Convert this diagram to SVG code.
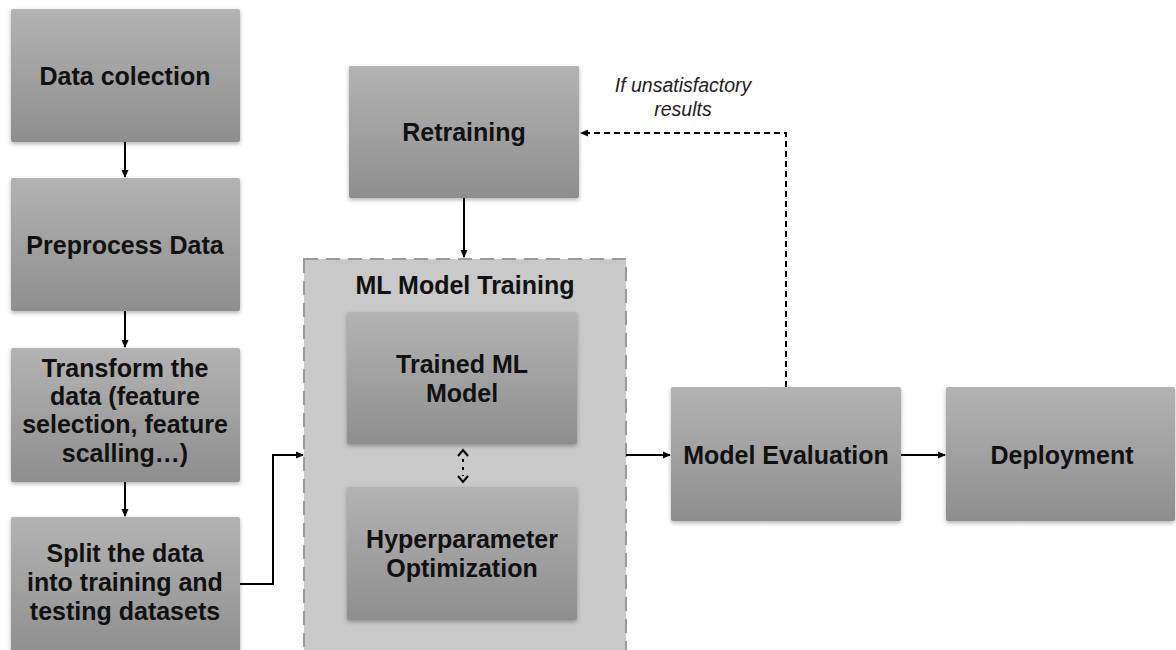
<svg xmlns="http://www.w3.org/2000/svg" width="1176" height="650" viewBox="0 0 1176 650">
<style>
.box{fill:url(#g);filter:url(#sh)}
.t{font-family:"Liberation Sans",Arial,sans-serif;font-weight:bold;font-size:25px;fill:#111;text-anchor:middle}
.it{font-family:"Liberation Sans",Arial,sans-serif;font-style:italic;font-size:19.5px;fill:#222;text-anchor:middle}
.ln{fill:none;stroke:#000;stroke-width:2}
.dl{fill:none;stroke:#000;stroke-width:2;stroke-dasharray:6,4}
</style>
<defs>
<linearGradient id="g" x1="0" y1="0" x2="0" y2="1">
<stop offset="0" stop-color="#b3b3b3"/>
<stop offset="1" stop-color="#8e8e8e"/>
</linearGradient>
<filter id="sh" x="-5%" y="-5%" width="110%" height="115%">
<feDropShadow dx="0" dy="2" stdDeviation="2" flood-color="#000" flood-opacity="0.3"/>
</filter>
<marker id="a" markerWidth="8" markerHeight="8" refX="7" refY="4" orient="auto" markerUnits="userSpaceOnUse">
<path d="M0,0.5 L8,4 L0,7.5 z" fill="#000"/>
</marker>
</defs>
<rect width="1176" height="650" fill="#fff"/>
<g id="container">
<rect x="304" y="259" width="322" height="400" fill="#c9c9c9" stroke="#9a9a9a" stroke-width="2" stroke-dasharray="14,8"/>
<text class="t" x="465" y="294">ML Model Training</text>
</g>
<g id="data-collection"><rect class="box" x="11" y="9" width="229" height="133" rx="2"/><text class="t" x="125" y="85">Data colection</text></g>
<g id="preprocess"><rect class="box" x="11" y="178" width="229" height="133" rx="2"/><text class="t" x="125" y="254">Preprocess Data</text></g>
<g id="transform"><rect class="box" x="11" y="348" width="229" height="134" rx="2"/>
<text class="t" x="125" y="377">Transform the</text><text class="t" x="125" y="405">data (feature</text><text class="t" x="125" y="433">selection, feature</text><text class="t" x="125" y="462">scalling…)</text></g>
<g id="split"><rect class="box" x="11" y="517" width="229" height="140" rx="2"/>
<text class="t" x="125" y="562">Split the data</text><text class="t" x="125" y="591">into training and</text><text class="t" x="125" y="620">testing datasets</text></g>
<g id="retraining"><rect class="box" x="349" y="66" width="230" height="132" rx="2"/><text class="t" x="464" y="141">Retraining</text></g>
<g id="trained"><rect class="box" x="347" y="312" width="230" height="132" rx="2"/><text class="t" x="462" y="373">Trained ML</text><text class="t" x="462" y="402">Model</text></g>
<g id="hyper"><rect class="box" x="347" y="487" width="230" height="133" rx="2"/><text class="t" x="462" y="548">Hyperparameter</text><text class="t" x="462" y="577">Optimization</text></g>
<g id="evaluation"><rect class="box" x="671" y="387" width="230" height="134" rx="2"/><text class="t" x="786" y="464">Model Evaluation</text></g>
<g id="deployment"><rect class="box" x="946" y="387" width="229" height="134" rx="2"/><text class="t" x="1062" y="464">Deployment</text></g>
<g id="label"><text class="it" x="683" y="92">If unsatisfactory</text><text class="it" x="683" y="116">results</text></g>
<g id="connectors">
<path class="ln" d="M125,142 V177" marker-end="url(#a)"/>
<path class="ln" d="M125,311 V347" marker-end="url(#a)"/>
<path class="ln" d="M125,482 V516" marker-end="url(#a)"/>
<path class="ln" d="M240,584 H273 V455 H303" marker-end="url(#a)"/>
<path class="ln" d="M464,198 V257" marker-end="url(#a)"/>
<path class="ln" d="M626,455 H670" marker-end="url(#a)"/>
<path class="ln" d="M901,455 H945" marker-end="url(#a)"/>
<path class="dl" d="M786,387 V133 H581" marker-end="url(#a)"/>
<path d="M463,459 V476" fill="none" stroke="#000" stroke-width="2" stroke-dasharray="3,5"/>
<path d="M458,456 L463,450 L468,456" fill="none" stroke="#000" stroke-width="2"/>
<path d="M458,476 L463,482 L468,476" fill="none" stroke="#000" stroke-width="2"/>
</g>
</svg>
